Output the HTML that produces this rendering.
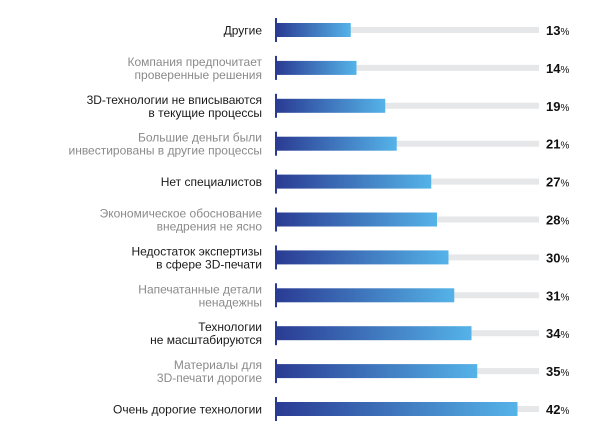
<!DOCTYPE html>
<html><head><meta charset="utf-8"><style>
body{margin:0;background:#fff;width:600px;height:441px;overflow:hidden;font-family:"Liberation Sans",sans-serif}
</style></head><body>
<svg width="600" height="441">
<defs><linearGradient id="g" x1="0" x2="1"><stop offset="0" stop-color="#2a3b93"/><stop offset="1" stop-color="#55b3e8"/></linearGradient></defs>
<g id="root"></g>
</svg>
<script>
const labels=[["Другие"],["Компания предпочитает","проверенные решения"],["3D-технологии не вписываются","в текущие процессы"],["Большие деньги были","инвестированы в другие процессы"],["Нет специалистов"],["Экономическое обоснование","внедрения не ясно"],["Недостаток экспертизы","в сфере 3D-печати"],["Напечатанные детали","ненадежны"],["Технологии","не масштабируются"],["Материалы для","3D-печати дорогие"],["Очень дорогие технологии"]];
const values=[13,14,19,21,27,28,30,31,34,35,42];
const ns="http://www.w3.org/2000/svg",root=document.getElementById('root');
const x0=276,k=5.75,trackEnd=539,y0=30,step=37.9;
function x(v){return x0+v*k;}
function mk(t,a,p){const e=document.createElementNS(ns,t);for(const n in a)e.setAttribute(n,a[n]);(p||root).appendChild(e);return e;}
values.forEach((v,i)=>{
 const cy=y0+i*step,g=mk('g',{});
 
 
 const tr=mk('rect',{x:x0,y:cy-3,width:trackEnd-x0,height:6,fill:'#e6e7e9'},g);
 
 
 const b=mk('rect',{x:x0,y:cy-7,width:x(v)-x0,height:14,fill:'url(#g)'},g);
 
 
 const ax=mk('rect',{x:x0-1,y:cy-12,width:2,height:24,fill:'#2a3b93'},g);
 
 
 const L=labels[i],col=i%2?'#8a8a8a':'#1a1a1a';
 L.forEach((s,j)=>{const t=mk('text',{x:262,y:cy+4.5+(j-(L.length-1)/2)*13,'text-anchor':'end','font-size':12,fill:col},g);t.textContent=s;
  
  });
 const p=mk('text',{x:546,y:cy+5,'font-size':13,'font-weight':'bold',fill:'#111'},g);
 
 
 p.textContent=v;const sp=mk('tspan',{'font-size':10,'font-weight':'normal'},p);sp.textContent='%';
});
</script>
</body></html>
